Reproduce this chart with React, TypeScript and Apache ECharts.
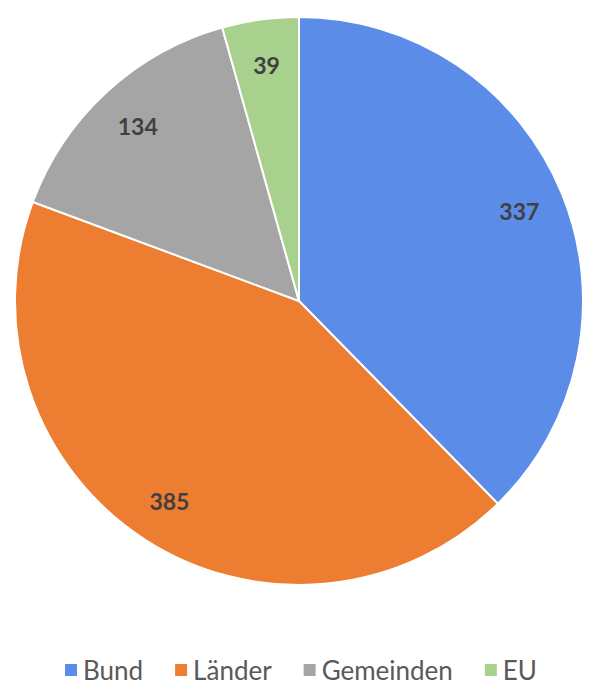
import React, { useEffect, useRef } from "react";
import * as echarts from "echarts";

const categories = ["Bund", "Länder", "Gemeinden", "EU"];
const values = [337, 385, 134, 39];
const colors = ["#5B8DE8", "#ED7D31", "#A5A5A5", "#A9D18E"];

export default function App() {
  const ref = useRef<HTMLDivElement>(null);
  useEffect(() => {
    if (!ref.current) return;
    const chart = echarts.init(ref.current, null, { renderer: "svg" });
    const data = categories.map((name, i) => ({
      name,
      value: values[i],
      itemStyle: { color: colors[i] },
    }));
    chart.setOption({
      animation: false,
      backgroundColor: "#ffffff",
      legend: {
        top: 652,
        left: "center",
        icon: "rect",
        itemWidth: 14,
        itemHeight: 14,
        itemGap: 30,
        data: categories,
        textStyle: {
          fontFamily: "Lato",
          fontSize: 26,
          color: "#595959",
        },
      },
      series: [
        {
          type: "pie",
          center: [299, 301],
          radius: [0, 284],
          startAngle: 90,
          clockwise: true,
          data,
          label: { show: false },
          labelLine: { show: false },
          itemStyle: { borderColor: "#ffffff", borderWidth: 2 },
          emphasis: { disabled: true },
        },
        {
          type: "pie",
          center: [299, 301],
          radius: [186, 284],
          startAngle: 90,
          clockwise: true,
          silent: true,
          data: categories.map((name, i) => ({
            name,
            value: values[i],
            itemStyle: { color: "rgba(0,0,0,0)" },
          })),
          legendHoverLink: false,
          label: {
            show: true,
            position: "inside",
            formatter: "{c}",
            fontFamily: "Lato",
            fontWeight: "bold",
            fontSize: 23,
            color: "#404040",
          },
          labelLine: { show: false },
          emphasis: { disabled: true },
        },
      ],
    });
    return () => chart.dispose();
  }, []);
  return (
    <div
      ref={ref}
      style={{ position: "fixed", left: 0, top: 0, width: 600, height: 696 }}
    />
  );
}
